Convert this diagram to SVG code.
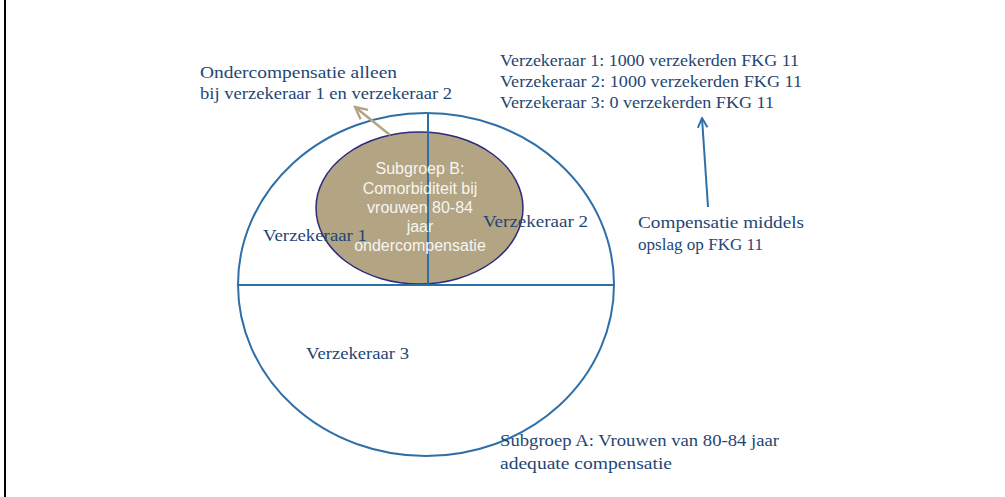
<svg xmlns="http://www.w3.org/2000/svg" width="1005" height="497" viewBox="0 0 1005 497">
<defs>
<style>
.lbl{font-family:"Liberation Serif","DejaVu Serif",serif;font-size:17px;fill:#1f4673}
.inner{font-family:"Liberation Sans",Arial,sans-serif;font-size:16px;fill:#f7f5f0;text-anchor:middle}
.blue{stroke:#2e6fa8;stroke-width:2;fill:none}
</style>
<marker id="ab" viewBox="0 0 10 10" refX="9" refY="5" markerWidth="6" markerHeight="6" orient="auto"><path d="M1,1 L9,5 L1,9" fill="none" stroke="#2e6fa8" stroke-width="1.6"/></marker>
<marker id="at" viewBox="0 0 10 10" refX="9" refY="5" markerWidth="6" markerHeight="6" orient="auto"><path d="M1,1 L9,5 L1,9" fill="none" stroke="#b3a484" stroke-width="1.6"/></marker>
</defs>
<rect width="1005" height="497" fill="#ffffff"/>
<line x1="5" y1="0" x2="5" y2="497" stroke="#000" stroke-width="2"/>
<g id="subgroepA">
<ellipse cx="426" cy="284.5" rx="188" ry="171.5" class="blue"/>
</g>
<g id="subgroepB">
<ellipse cx="419.5" cy="208" rx="103.5" ry="76" fill="#b3a484" stroke="#2e2a7a" stroke-width="1.5"/>
</g>
<g id="dividers">
<line x1="238" y1="285" x2="614" y2="285" class="blue"/>
<line x1="428" y1="113" x2="428" y2="285" class="blue"/>
</g>
<g id="subgroepB-text">
<text class="inner" x="420" y="174">Subgroep B:</text>
<text class="inner" x="420" y="193.5">Comorbiditeit bij</text>
<text class="inner" x="420" y="213">vrouwen 80-84</text>
<text class="inner" x="420" y="232">jaar</text>
<text class="inner" x="420" y="251">ondercompensatie</text>
</g>
<g id="v1"><text class="lbl" x="263" y="241" textLength="104" lengthAdjust="spacingAndGlyphs">Verzekeraar 1</text></g>
<g id="v2"><text class="lbl" x="483" y="227" textLength="105" lengthAdjust="spacingAndGlyphs">Verzekeraar 2</text></g>
<g id="v3"><text class="lbl" x="306" y="359" textLength="103" lengthAdjust="spacingAndGlyphs">Verzekeraar 3</text></g>
<g id="onder">
<text class="lbl" x="200" y="78" textLength="197" lengthAdjust="spacingAndGlyphs">Ondercompensatie alleen</text>
<text class="lbl" x="200" y="99" textLength="252" lengthAdjust="spacingAndGlyphs">bij verzekeraar 1 en verzekeraar 2</text>
</g>
<g id="counts">
<text class="lbl" x="500" y="66" textLength="299" lengthAdjust="spacingAndGlyphs">Verzekeraar 1: 1000 verzekerden FKG 11</text>
<text class="lbl" x="500" y="87" textLength="302" lengthAdjust="spacingAndGlyphs">Verzekeraar 2: 1000 verzekerden FKG 11</text>
<text class="lbl" x="500" y="108" textLength="274" lengthAdjust="spacingAndGlyphs">Verzekeraar 3: 0 verzekerden FKG 11</text>
</g>
<g id="comp">
<text class="lbl" x="638" y="228" textLength="166" lengthAdjust="spacingAndGlyphs">Compensatie middels</text>
<text class="lbl" x="638" y="250" textLength="125" lengthAdjust="spacingAndGlyphs">opslag op FKG 11</text>
</g>
<g id="subA-text">
<text class="lbl" x="500" y="446" textLength="279" lengthAdjust="spacingAndGlyphs">Subgroep A: Vrouwen van 80-84 jaar</text>
<text class="lbl" x="500" y="469" textLength="172" lengthAdjust="spacingAndGlyphs">adequate compensatie</text>
</g>
<g id="connectors">
<line x1="708" y1="207" x2="702" y2="118" stroke="#2e6fa8" stroke-width="2" marker-end="url(#ab)"/>
<line x1="390" y1="135" x2="355" y2="107" stroke="#b3a484" stroke-width="2.5" marker-end="url(#at)"/>
</g>
</svg>
